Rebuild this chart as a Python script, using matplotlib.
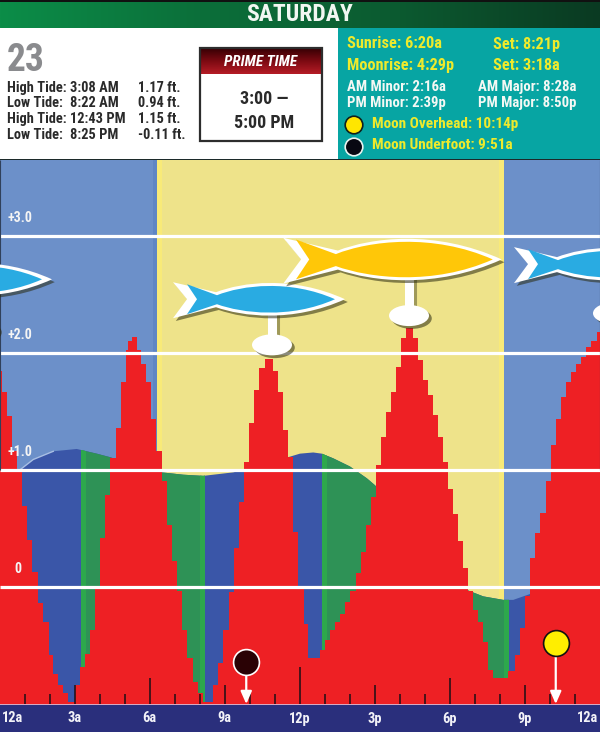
import numpy as np
import matplotlib
matplotlib.use("Agg")
import matplotlib.pyplot as plt
from matplotlib.colors import LinearSegmentedColormap
from matplotlib.patches import Rectangle, Circle, Ellipse, PathPatch
from matplotlib.path import Path
import matplotlib.patheffects as pe

plt.rcParams["font.family"] = ["Roboto Condensed", "PT Sans Narrow", "Liberation Sans Narrow", "Liberation Sans", "DejaVu Sans"]

# Tide steps: start hour of each step and its height in feet
tide_hours = [-0.07, 0.09, 0.29, 0.49, 0.69, 0.89, 1.09, 1.29, 1.53, 1.73, 1.97, 2.13, 2.33, 2.53, 2.73, 3.00,
              3.20, 3.40, 3.60, 3.80, 4.00, 4.20, 4.40, 4.63, 4.83, 5.04, 5.13, 5.27, 5.47, 5.63, 5.83, 6.03,
              6.24, 6.47, 6.67, 6.87, 7.07, 7.27, 7.47, 7.71, 7.93, 8.13, 8.53, 8.73, 8.93, 9.16, 9.36, 9.56,
              9.76, 9.96, 10.16, 10.37, 10.60, 10.93, 11.13, 11.33, 11.53, 11.73, 11.93, 12.16, 12.33, 12.80,
              13.00, 13.20, 13.40, 13.60, 13.80, 14.00, 14.24, 14.44, 14.64, 14.84, 15.04, 15.24, 15.44, 15.64,
              15.84, 16.04, 16.24, 16.53, 16.71, 16.91, 17.11, 17.33, 17.53, 17.73, 17.93, 18.13, 18.33, 18.53,
              18.73, 18.93, 19.13, 19.33, 19.53, 19.73, 20.33, 20.60, 20.80, 21.00, 21.20, 21.40, 21.60, 21.83,
              22.03, 22.23, 22.43, 22.63, 22.83, 23.04, 23.24, 23.44, 23.64, 23.87, 24.10]
tide_feet = [1.85, 1.67, 1.46, 1.16, 1.00, 0.69, 0.40, 0.13, -0.14, -0.30, -0.58, -0.74, -0.84, -0.91, -0.98, -0.84,
             -0.68, -0.57, -0.37, 0.00, 0.42, 0.79, 1.10, 1.36, 1.75, 2.03, 2.10, 2.14, 2.03, 1.91, 1.75, 1.44,
             1.16, 0.91, 0.53, 0.22, -0.03, -0.37, -0.61, -0.81, -0.91, -0.98, -0.84, -0.65, -0.37, -0.04, 0.33, 0.73,
             1.07, 1.40, 1.68, 1.87, 1.95, 1.85, 1.67, 1.34, 1.11, 0.47, 0.00, -0.32, -0.61, -0.54,
             -0.45, -0.37, -0.30, -0.23, -0.13, -0.03, 0.12, 0.30, 0.53, 0.77, 1.04, 1.28, 1.50, 1.67,
             1.88, 2.13, 2.21, 2.13, 1.94, 1.77, 1.64, 1.47, 1.28, 1.07, 0.84, 0.62, 0.39, 0.16,
             -0.03, -0.20, -0.30, -0.47, -0.71, -0.78, -0.72, -0.58, -0.35, -0.08, 0.25, 0.46, 0.63, 0.91,
             1.21, 1.44, 1.62, 1.75, 1.84, 1.91, 1.97, 2.05, 2.10, 2.18, 2.18]

# Water level curve behind the tide steps
level_hours = [0.0, 0.73, 1.33, 2.13, 3.07, 3.27, 3.87, 4.40, 5.50, 6.47, 7.33, 8.13, 9.33, 9.73, 10.67,
               11.53, 12.0, 12.53, 12.87, 13.33, 14.0, 14.67, 15.0, 17.0, 18.73, 19.33, 20.13, 20.53, 21.2, 24.0]
level_feet = [0.85, 0.99, 1.09, 1.16, 1.18, 1.17, 1.14, 1.11, 1.03, 0.98, 0.96, 0.95, 0.98, 1.00, 1.07,
              1.11, 1.14, 1.15, 1.14, 1.10, 1.03, 0.93, 0.87, 0.40, -0.03, -0.08, -0.11, -0.11, -0.06, 0.20]

daylight_start, daylight_end = 6.28, 20.14
falling_spans = [(3.25, 8.2), (12.87, 20.35)]
slack_strips = [(3.25, 3.45), (8.0, 8.2), (12.87, 13.07), (20.15, 20.35)]

grid_levels = [0, 1, 2, 3]
grid_labels = ["0", "+1.0", "+2.0", "+3.0"]

hour_labels = ["12a", "3a", "6a", "9a", "12p", "3p", "6p", "9p", "12a"]

tide_rows = [("High Tide:", "3:08 AM", "1.17 ft."),
             ("Low Tide:", "8:22 AM", "0.94 ft."),
             ("High Tide:", "12:43 PM", "1.15 ft."),
             ("Low Tide:", "8:25 PM", "-0.11 ft.")]

# Bite periods: hour under the fish, fish body level, pin level, sizes, colour
fish_hours = [-0.84, 10.88, 16.36, 24.52]
fish_levels = [2.63, 2.46, 2.80, 2.76]
pin_levels = [2.20, 2.07, 2.32, 2.34]
fish_sizes = [1.0, 1.0, 1.27, 1.0]
fish_fill_sizes = [1.0, 1.0, 1.33, 1.0]
fish_colours = ["#29abe2", "#29abe2", "#ffc708", "#29abe2"]

moon_underfoot_hour = 9.85
moon_overhead_hour = 22.23
moon_underfoot_y, moon_overhead_y = -0.64, -0.48

RED = "#ee2024"
NIGHT = "#6c90c9"
DAY = "#eee38a"
NAVY = "#2a2f7c"
BLUE_DEEP = "#3a56a8"
GREEN_DEEP = "#2e9256"
GREEN_BRIGHT = "#2da84c"
YELLOW_TXT = "#eeea2c"
HOURS_PX, FEET_PX = 25.0, 117.0

fig = plt.figure(figsize=(6.0, 7.32), dpi=100)

# Page furniture lives on a full-size overlay measured from the top left
page = fig.add_axes([0, 0, 1, 1])
page.set_xlim(0, 600)
page.set_ylim(732, 0)
page.axis("off")

green_map = LinearSegmentedColormap.from_list("bar", ["#0c8d48", "#0b6f3a", "#0c5a30", "#0a3a22"])
page.imshow(np.linspace(0, 1, 256)[None, :], extent=(0, 600, 28, 1), cmap=green_map, aspect="auto", zorder=1)
page.add_patch(Rectangle((0, 0), 600, 1.5, fc="#111111", ec="none", zorder=2))
page.add_patch(Rectangle((0, 28), 338, 132, fc="white", ec="none", zorder=1))
page.add_patch(Rectangle((338, 28), 262, 132, fc="#07a5a3", ec="none", zorder=1))
page.add_patch(Rectangle((0, 159), 600, 1.5, fc="#1c2a2a", ec="none", zorder=3))
page.add_patch(Rectangle((0, 704), 600, 28, fc=NAVY, ec="none", zorder=1))
page.add_patch(Rectangle((0, 703.5), 600, 1, fc="#d9a8c0", ec="none", zorder=3))
page.set_xlim(0, 600)
page.set_ylim(732, 0)

page.text(300, 14.5, "SATURDAY", color="#f2f7f2", fontsize=17, fontweight="bold", ha="center", va="center", zorder=4)
page.text(6.5, 60.5, "23", color="#8a8b8e", fontsize=27, fontweight="bold", ha="left", va="center", zorder=4)

row_ys = [88, 103, 119, 135]
for y, (kind, clock, feet) in zip(row_ys, tide_rows):
    for x, s in zip((7, 70, 138), (kind, clock, feet)):
        page.text(x, y, s, color="#2a2a2a", fontsize=10.4, fontweight="bold", ha="left", va="center", zorder=4)

# Prime time box
red_map = LinearSegmentedColormap.from_list("prime", ["#360004", "#7c0a12", "#b51c26"])
page.imshow(np.linspace(0, 1, 64)[:, None], extent=(200, 321, 74, 48), cmap=red_map, aspect="auto", zorder=2)
page.add_patch(Rectangle((199.5, 47.5), 122, 93, fc="none", ec="#2d2d2d", lw=1.6, zorder=3))
page.set_xlim(0, 600)
page.set_ylim(732, 0)
page.text(260.5, 61.5, "PRIME TIME", color="white", fontsize=11, fontweight="bold", style="italic", ha="center", va="center", zorder=4)
page.text(264, 98.5, "3:00 \u2014", color="#2a2a2a", fontsize=13, fontweight="bold", ha="center", va="center", zorder=4)
page.text(264, 123.5, "5:00 PM", color="#2a2a2a", fontsize=13, fontweight="bold", ha="center", va="center", zorder=4)

# Sun and moon table
for x, y, s, size in [(347, 44, "Sunrise: 6:20a", 11.7), (493, 44, "Set: 8:21p", 11.7),
                      (347, 65.5, "Moonrise: 4:29p", 11.7), (493, 65.5, "Set: 3:18a", 11.7),
                      (372, 124, "Moon Overhead: 10:14p", 11.0), (372, 145, "Moon Underfoot: 9:51a", 11.0)]:
    page.text(x, y, s, color=YELLOW_TXT, fontsize=size, fontweight="bold", ha="left", va="center", zorder=4)
for x, y, s in [(347, 87, "AM Minor: 2:16a"), (347, 103, "PM Minor: 2:39p"),
                (478, 87, "AM Major: 8:28a"), (478, 103, "PM Major: 8:50p")]:
    page.text(x, y, s, color="#f4f8f4", fontsize=10.6, fontweight="bold", ha="left", va="center", zorder=4)
page.add_patch(Circle((354, 125), 8.8, fc="#ffe600", ec="#10201c", lw=1.2, zorder=4))
page.add_patch(Circle((354, 147), 8.8, fc="#080812", ec="#e8f4f0", lw=1.2, zorder=4))

# Tide chart
ax = fig.add_axes([0, 28 / 732, 1, 544 / 732])
ax.set_xlim(0, 24)
ax.set_ylim(-1, 3.65)
ax.axis("off")

ax.axvspan(0, daylight_start, color=NIGHT, lw=0, zorder=1)
ax.axvspan(daylight_end, 24, color=NIGHT, lw=0, zorder=1)
ax.axvspan(daylight_start, daylight_end, color=DAY, lw=0, zorder=1)
ax.axvspan(daylight_start, daylight_start + 0.2, color="#f8ea78", lw=0, zorder=1.1)
ax.axvspan(daylight_end - 0.2, daylight_end, color="#f8ea78", lw=0, zorder=1.1)
ax.axvspan(daylight_start - 0.15, daylight_start, color="#5f86c4", lw=0, zorder=1.1)

water = ax.fill_between(level_hours, -1, level_feet, color=BLUE_DEEP, lw=0, zorder=2)
water_path = water.get_paths()[0]
for start, end in falling_spans:
    ax.axvspan(start, end, color=GREEN_DEEP, lw=0, zorder=2.1).set_clip_path(water_path, ax.transData)
for start, end in slack_strips:
    ax.axvspan(start, end, color=GREEN_BRIGHT, lw=0, zorder=2.2).set_clip_path(water_path, ax.transData)
ax.plot(level_hours[1:4], level_feet[1:4], color="#a8bfe4", lw=1.0, zorder=2.5)

ax.fill_between(tide_hours, -1, tide_feet, step="post", color=RED, lw=0, zorder=3)

# Hour ticks
for hour in range(1, 24):
    top = 37 if hour == 12 else 26 if hour % 6 == 0 else 19 if hour % 3 == 0 else 10
    ax.vlines(hour, -1, -1 + top / FEET_PX, color="#1a1016", lw=1.1, zorder=3.5)

ax.hlines(grid_levels, 0, 24, color="white", lw=2.3, zorder=4)
for level, s in zip(grid_levels, grid_labels):
    hour, ha = (0.72, "center") if level == 0 else (0.32, "left")
    ax.text(hour, level + 0.155, s, color="#f4f4f4", fontsize=10, fontweight="bold", ha=ha, va="center", zorder=4.1)

# Fish markers, outlined in white, in pixels around the point above the pin
OUTER_BODY = [(-99, -17), (-85, 0), (-99, 19), (-56, 8), (-30, 17), (20, 24), (73, 0),
              (20, -24), (-30, -17), (-56, -7), (-99, -17)]
INNER_BODY = [(-85, -15), (-75, 0), (-85, 15), (-55, 5), (-30, 14), (18, 20), (63, 0),
              (18, -20), (-30, -14), (-55, -4), (-85, -15)]
BODY_CODES = [Path.MOVETO, Path.LINETO, Path.LINETO, Path.LINETO, Path.CURVE4, Path.CURVE4, Path.CURVE4,
              Path.CURVE4, Path.CURVE4, Path.CURVE4, Path.LINETO]
shadow = [pe.SimplePatchShadow(offset=(2, -2), shadow_rgbFace="#2a2a10", alpha=0.55), pe.Normal()]


def fish_path(points, hour, level, size):
    local = np.array(points, float) * size
    verts = np.column_stack((hour + local[:, 0] / HOURS_PX, level - local[:, 1] / FEET_PX))
    return Path(verts, BODY_CODES)


for hour, level, pin, size, fill_size, colour in zip(fish_hours, fish_levels, pin_levels, fish_sizes,
                                                     fish_fill_sizes, fish_colours):
    ax.plot([hour, hour], [level, pin], color="white", lw=6.5, solid_capstyle="butt", zorder=5,
            path_effects=[pe.SimpleLineShadow(offset=(2, -1), shadow_color="#2a2a10", alpha=0.4), pe.Normal()])
    ax.add_patch(Ellipse((hour, pin), 40 / HOURS_PX, 21 / FEET_PX, fc="white", ec="none", zorder=5.2, path_effects=shadow))
    ax.add_patch(PathPatch(fish_path(OUTER_BODY, hour, level, size), fc="white", ec="none", zorder=5.5, path_effects=shadow))
    ax.add_patch(PathPatch(fish_path(INNER_BODY, hour, level, fill_size), fc=colour, ec="none", zorder=5.6))

# Moon transit pins
for hour, y, face, rim in [(moon_underfoot_hour, moon_underfoot_y, "#2a0205", "white"),
                           (moon_overhead_hour, moon_overhead_y, "#ffee00", "#111111")]:
    ax.annotate("", xy=(hour, -1), xytext=(hour, y), zorder=6,
                arrowprops=dict(arrowstyle="-|>,head_length=0.75,head_width=0.33", color="white", lw=1.6,
                                shrinkA=0, shrinkB=0))
    ax.plot([hour], [y], "o", ms=18.6, mfc=face, mec=rim, mew=1.2, zorder=6.5)

ax.vlines([0.01, 23.99], 1.0, 3.65, color="#30405a", lw=0.8, zorder=4.5)

# Hour labels on the navy band
label_px = [2, 74.5, 149.5, 224.5, 300, 374.5, 449.5, 524.5, 598]
label_ha = ["left", "center", "center", "center", "center", "center", "center", "center", "right"]
for x, s, ha in zip(label_px, hour_labels, label_ha):
    page.text(x, 718.5, s, color="#f2f2f8", fontsize=10.4, fontweight="bold", ha=ha, va="center", zorder=4)

fig.savefig("out.png", dpi=100)
